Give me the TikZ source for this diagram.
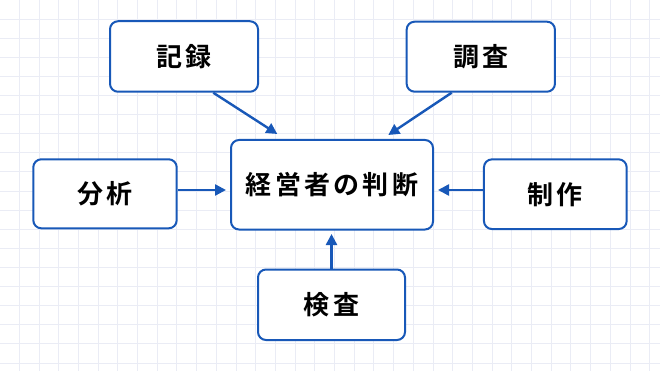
\documentclass[tikz,border=0pt]{standalone}
\usepackage{fontspec}
\newfontfamily\jpfont{Noto Sans CJK JP}[BoldFont={* Bold}]
\usetikzlibrary{arrows.meta}
\definecolor{boxblue}{RGB}{24,88,184}
\definecolor{gridc}{RGB}{234,236,245}
\newcommand\lsp{\kern3.3pt}
\begin{document}
\begin{tikzpicture}[x=1pt,y=-1pt,
  box/.style={draw=boxblue,line width=2pt,rounded corners=8pt,fill=white,
    inner sep=0pt,font=\jpfont\bfseries\fontsize{26}{30}\selectfont,text=black},
  conn/.style={draw=boxblue,line width=2.4pt,-{Triangle[length=11pt,width=11pt]}}]
\useasboundingbox (0,0) rectangle (660,371);
\fill[white] (0,0) rectangle (660,371);
\foreach \i in {1,...,33} {\draw[gridc,line width=0.8pt] ({19.7*\i-0.5},0) -- ({19.7*\i-0.5},371);}
\foreach \j in {1,...,19} {\draw[gridc,line width=0.8pt] (0,{19.1*\j}) -- (660,{19.1*\j});}
\node[box,minimum width=202pt,minimum height=89.5pt] (main) at (332,184.75) {経\lsp{}営\lsp{}者\lsp{}の\lsp{}判\lsp{}断};
\node[box,minimum width=148pt,minimum height=70.5pt] (rec) at (184,56.5) {記\lsp{}録};
\node[box,minimum width=148.3pt,minimum height=70pt] (inv) at (480.8,56.7) {調\lsp{}査};
\node[box,minimum width=143.4pt,minimum height=69pt] (ana) at (105,193.8) {分\lsp{}析};
\node[box,minimum width=142.7pt,minimum height=69.7pt] (pro) at (555.3,194.2) {制\lsp{}作};
\node[box,minimum width=147pt,minimum height=70.5pt] (ins) at (331.5,304.75) {検\lsp{}査};
\draw[conn] ([xshift=29.3pt]rec.south) -- ([xshift=-54.7pt,yshift=5pt]main.north);
\draw[conn] ([xshift=-29.1pt]inv.south) -- ([xshift=56.3pt,yshift=4pt]main.north);
\draw[conn] ([yshift=3.8pt]ana.east) -- ([xshift=-4pt,yshift=-5.25pt]main.west);
\draw[conn] ([yshift=4.2pt]pro.west) -- ([xshift=4pt,yshift=-5.25pt]main.east);
\draw[conn] (ins.north) -- ([xshift=-0.5pt,yshift=-3.5pt]main.south);
\end{tikzpicture}
\end{document}
